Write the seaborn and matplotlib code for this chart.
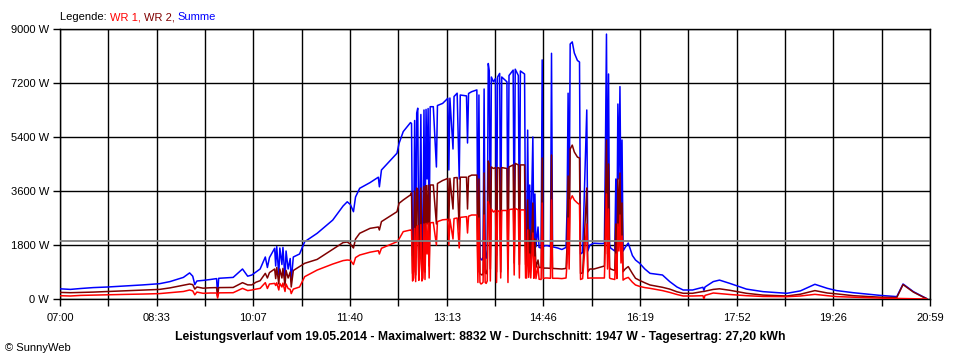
import numpy as np
import pandas as pd
import matplotlib
matplotlib.use("Agg")
import matplotlib.pyplot as plt
import seaborn as sns

# ---------------- data ----------------
times = [
    "07:00", "07:10", "07:20", "07:32", "07:46", "08:05", "08:20", "08:36", "08:46", "08:59",
    "09:05", "09:08", "09:10", "09:12", "09:18", "09:25", "09:31", "09:32", "09:33", "09:47",
    "09:56", "10:01", "10:05", "10:09", "10:13", "10:18", "10:20", "10:22", "10:27", "10:28",
    "10:29", "10:31", "10:32", "10:34", "10:35", "10:37", "10:38", "10:40", "10:42", "10:43",
    "10:45", "10:51", "10:56", "11:08", "11:23", "11:33", "11:37", "11:40", "11:43", "11:45",
    "11:49", "11:59", "12:07", "12:08", "12:10", "12:25", "12:27", "12:31", "12:38", "12:39",
    # first burst of clouds
    "12:40", "12:41", "12:42", "12:43", "12:44", "12:45", "12:46", "12:47", "12:48", "12:49",
    "12:50", "12:51", "12:52", "12:53", "12:54", "12:55", "12:56", "12:57", "13:00", "13:03",
    "13:04", "13:09", "13:14", "13:15", "13:16", "13:19", "13:20", "13:23", "13:25", "13:26",
    "13:32", "13:33", "13:34", "13:37", "13:42",
    # second burst
    "13:43", "13:44", "13:45", "13:46", "13:47", "13:48", "13:49", "13:50", "13:51", "13:52",
    "13:53", "13:54", "13:55", "13:56", "13:58", "14:00", "14:01", "14:02", "14:04", "14:05",
    "14:06", "14:11", "14:12", "14:13", "14:17", "14:18", "14:19", "14:22", "14:23", "14:24",
    "14:28", "14:29",
    # afternoon spikes
    "14:30", "14:31", "14:32", "14:33", "14:34", "14:36", "14:37", "14:38", "14:39", "14:41",
    "14:42", "14:44", "14:45", "14:46", "14:48", "14:50", "14:53", "14:54", "14:55", "15:00",
    "15:04", "15:08", "15:09", "15:10", "15:11", "15:12", "15:14", "15:16", "15:19", "15:21",
    "15:22", "15:24", "15:28", "15:29", "15:31", "15:35", "15:40", "15:45", "15:46", "15:47",
    "15:48", "15:49", "15:50", "15:51", "15:55", "15:56", "15:57", "15:58", "15:59", "16:00",
    "16:01", "16:02",
    # evening
    "16:03", "16:05", "16:08", "16:12", "16:15", "16:19", "16:24", "16:29", "16:41", "16:48",
    "16:55", "17:01", "17:10", "17:20", "17:21", "17:22", "17:30", "17:36", "17:46", "18:02",
    "18:18", "18:41", "18:54", "19:08", "19:20", "19:29", "19:45", "20:11", "20:27", "20:33",
    "20:43", "20:52", "20:56",
]

wr1 = [
    110, 100, 120, 130, 140, 155, 165, 180, 210, 250,
    300, 270, 140, 230, 190, 200, 200, 30, 205, 210,
    355, 280, 300, 330, 355, 545, 350, 500, 520, 450,
    540, 300, 520, 400, 530, 250, 500, 350, 320, 180,
    330, 400, 745, 965, 1165, 1280, 1300, 1290, 1150, 1380,
    1465, 1560, 1610, 1500, 1690, 1910, 2000, 2245, 2300, 2300,
    600, 700, 2350, 580, 2400, 2450, 620, 1200, 2480, 600,
    700, 2500, 650, 2520, 1500, 2530, 700, 2540, 2550, 1800,
    2580, 2640, 2655, 1800, 2660, 2000, 2680, 2700, 1700, 2720,
    2745, 2200, 2760, 2800, 2800,
    550, 2700, 550, 500, 520, 560, 2800, 550, 520, 600,
    3250, 3100, 600, 3000, 2900, 2950, 550, 2950, 2910, 700,
    2950, 2950, 550, 2980, 3000, 800, 3020, 2970, 700, 2970,
    2970, 700,
    700, 2300, 720, 1500, 700, 2200, 690, 1400, 680, 1100,
    660, 650, 3200, 680, 700, 700, 690, 3300, 690, 690,
    680, 700, 1200, 2700, 1000, 3300, 3440, 3300, 3200, 3150,
    650, 680, 2500, 690, 700, 700, 700, 700, 2000, 3500,
    1000, 3000, 700, 680, 650, 1500, 680, 2500, 1600, 2800,
    1200, 2100,
    630, 680, 720, 560, 467, 420, 380, 355, 280, 220,
    150, 100, 100, 110, 0, 120, 200, 180, 150, 110,
    85, 78, 100, 155, 110, 80, 60, 30, 20, 15,
    10, 5, 0,
]

wr2 = [
    220, 210, 220, 230, 250, 275, 295, 320, 370, 460,
    500, 480, 330, 400, 360, 375, 380, 90, 380, 385,
    545, 470, 470, 560, 610, 855, 700, 880, 1000, 680,
    1050, 500, 1000, 700, 1020, 450, 950, 700, 900, 400,
    950, 1080, 1190, 1320, 1655, 1880, 1900, 1830, 1700, 2000,
    2190, 2355, 2400, 2300, 2580, 2910, 3190, 3300, 3470, 3540,
    850, 900, 3600, 800, 3700, 3650, 850, 2000, 3700, 830,
    1000, 3750, 900, 3780, 2500, 3790, 1100, 3800, 3800, 2500,
    3850, 3950, 4020, 2600, 4020, 3000, 4040, 4050, 2300, 4060,
    4060, 3000, 4080, 4130, 4130,
    900, 4000, 850, 820, 800, 850, 4200, 870, 840, 1000,
    4600, 4500, 1000, 4400, 4350, 4380, 900, 4380, 4360, 900,
    4380, 4350, 1000, 4400, 4470, 1200, 4520, 4470, 1150, 4470,
    4470, 1150,
    1100, 3300, 1150, 2300, 1100, 3200, 1100, 2000, 1050, 1300,
    1050, 1050, 4700, 1030, 1030, 1030, 1020, 4800, 1020, 1010,
    1000, 1020, 1800, 4100, 1500, 5000, 5130, 4900, 4730, 4700,
    850, 870, 3700, 900, 1000, 1000, 1050, 1100, 3000, 5300,
    1500, 4500, 1050, 1000, 950, 2500, 1000, 4000, 2400, 4200,
    1800, 3200,
    910, 1000, 1080, 850, 690, 620, 540, 467, 390, 330,
    240, 190, 190, 250, 250, 260, 320, 340, 290, 190,
    130, 100, 160, 280, 200, 170, 110, 60, 50, 480,
    230, 70, 10,
]

summe = [
    340, 320, 350, 380, 400, 440, 470, 510, 580, 720,
    870, 760, 480, 600, 620, 650, 680, 120, 690, 720,
    1000, 760, 800, 900, 1000, 1400, 1050, 1380, 1690, 1100,
    1750, 800, 1700, 1150, 1720, 650, 1600, 1000, 1350, 600,
    1400, 1500, 1910, 2190, 2630, 3100, 3240, 3150, 2910, 3400,
    3690, 3880, 4060, 3740, 4300, 4860, 5190, 5580, 5880, 5850,
    1450, 1600, 5950, 1380, 6200, 6360, 1470, 3200, 6150, 1430,
    1700, 6300, 1500, 6320, 4000, 6350, 1800, 6410, 6410, 4400,
    6450, 6520, 6690, 4300, 6700, 5000, 6750, 6860, 4000, 6800,
    6770, 5200, 6850, 6910, 6970,
    1450, 6800, 1400, 1320, 1300, 1400, 7000, 1420, 1360, 1650,
    7850, 7600, 1650, 7400, 7240, 7350, 1450, 7400, 7520, 1600,
    7400, 7240, 1550, 7450, 7630, 2000, 7660, 7450, 1900, 7600,
    7500, 1850,
    1800, 5630, 1900, 3800, 1800, 5400, 1800, 3500, 1740, 2400,
    1720, 1700, 7970, 1750, 1780, 1780, 1750, 8190, 1740, 1700,
    1650, 1720, 3000, 6860, 2500, 8500, 8570, 8200, 7950, 7900,
    1500, 1550, 6300, 1600, 1800, 1860, 1850, 1850, 5000, 8830,
    2500, 7500, 1800, 1700, 1600, 4000, 1700, 6500, 4000, 7080,
    3000, 5300,
    1600, 1720, 1865, 1450, 1300, 1190, 1000, 855, 800, 580,
    400, 300, 300, 390, 290, 400, 580, 630, 520, 330,
    245, 190, 270, 490, 355, 280, 210, 120, 80, 500,
    245, 80, 10,
]

assert len(times) == len(wr1) == len(wr2) == len(summe)

y_ticks = [0, 1800, 3600, 5400, 7200, 9000]
y_tick_labels = ["0 W", "1800 W", "3600 W", "5400 W", "7200 W", "9000 W"]
x_tick_labels = ["07:00", "08:33", "10:07", "11:40", "13:13", "14:46",
                 "16:19", "17:52", "19:26", "20:59"]
average_w = 1947
caption = ("Leistungsverlauf vom 19.05.2014 - Maximalwert: 8832 W - "
           "Durchschnitt: 1947 W - Tagesertrag: 27,20 kWh")

# ---------------- styling ----------------
sns.set_theme(style="white")
plt.rcParams["font.family"] = ["Liberation Sans", "DejaVu Sans"]


def to_minutes(s):
    h, m = s.split(":")
    return int(h) * 60 + int(m) - 7 * 60


df = pd.DataFrame({
    "t": [to_minutes(s) for s in times],
    "WR 1": wr1,
    "WR 2": wr2,
    "Summe": summe,
})

fig = plt.figure(figsize=(9.6, 3.6), dpi=100)
ax = fig.add_axes([60 / 960, 61 / 360, 870 / 960, 270 / 360])

for col, color, z in [("Summe", "#0000ff", 3), ("WR 2", "#800000", 4), ("WR 1", "#ff0000", 5)]:
    sns.lineplot(data=df, x="t", y=col, color=color, linewidth=1.1,
                 estimator=None, sort=False, ax=ax, zorder=z, legend=False)

ax.axhline(average_w, color="#808080", linewidth=1.3, zorder=6)

t_end = to_minutes(x_tick_labels[-1])
ax.set_xlim(0, t_end)
ax.set_ylim(y_ticks[0], y_ticks[-1])
xt = np.linspace(0, t_end, 2 * (len(x_tick_labels) - 1) + 1)
ax.set_xticks(xt)
xl = []
for i in range(len(xt)):
    xl.append(x_tick_labels[i // 2] if i % 2 == 0 else "")
ax.set_xticklabels(xl)
ax.set_yticks(y_ticks)
ax.set_yticklabels(y_tick_labels)
ax.set_xlabel("")
ax.set_ylabel("")
ax.grid(True, color="black", linewidth=1.0)
ax.set_axisbelow(True)
for sp in ax.spines.values():
    sp.set_color("black")
    sp.set_linewidth(1.0)
ax.tick_params(axis="both", direction="out", length=5, width=1.0, color="black",
               labelsize=8, labelcolor="black", bottom=True, left=True, pad=3)
ax.tick_params(axis="x", pad=5)

# legend line on top
t0 = fig.text(60 / 960, (360 - 17) / 360, "Legende: ", fontsize=8, color="black",
              va="center", ha="left")
prev = t0
for txt, c in [("WR 1, ", "#ff0000"), ("WR 2, ", "#800000"), ("Summe", "#0000ff")]:
    prev = ax.annotate(txt, xy=(1, 0), xycoords=prev, ha="left", va="bottom",
                       fontsize=8, color=c, annotation_clip=False)

fig.text(0.5, (360 - 337) / 360, caption, ha="center", va="center",
         fontsize=8.8, fontweight="bold", color="black")
fig.text(5 / 960, (360 - 348) / 360, "\u00a9 SunnyWeb", ha="left", va="center",
         fontsize=8, color="black")

fig.savefig("out.png", dpi=100)
